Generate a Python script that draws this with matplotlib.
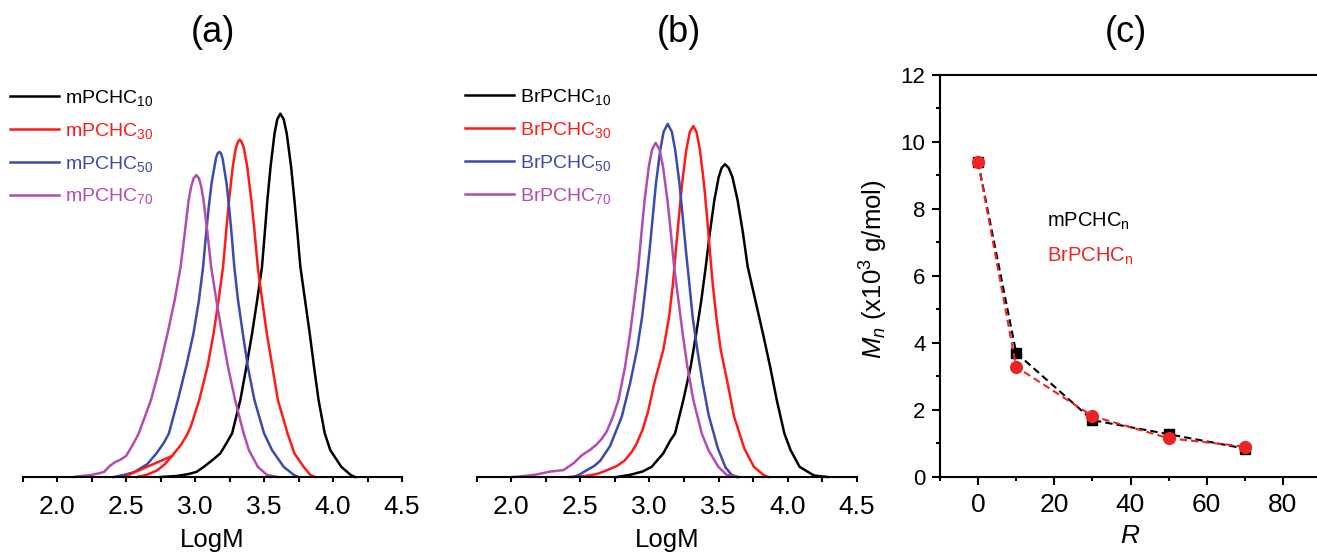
#!/usr/bin/env python3
# -*- coding: utf-8 -*-

import matplotlib
matplotlib.use("Agg")
import matplotlib.pyplot as plt
import matplotlib.ticker as mticker

# ====== DATA ======
# (a) GPC traces, mPCHC_n (LogM vs. normalised intensity)
a_m10_x = [2.75, 2.87, 2.95, 3.01, 3.063, 3.13, 3.183, 3.23, 3.268, 3.328, 3.372, 3.413, 3.450, 3.485, 3.505,
           3.524, 3.547, 3.576, 3.596, 3.618, 3.642, 3.664, 3.696, 3.720, 3.742, 3.763, 3.797, 3.831, 3.862,
           3.895, 3.94, 3.98, 4.06, 4.13, 4.16]
a_m10_y = [0.0, 0.003, 0.008, 0.014, 0.028, 0.048, 0.065, 0.095, 0.120, 0.212, 0.304, 0.395, 0.487, 0.579, 0.671,
           0.762, 0.854, 0.946, 0.985, 1.0, 0.985, 0.946, 0.854, 0.762, 0.671, 0.579, 0.487, 0.395, 0.304,
           0.212, 0.120, 0.074, 0.028, 0.005, 0.0]

a_m30_x = [2.579, 2.65, 2.724, 2.78, 2.833, 2.900, 2.94, 2.97, 3.030, 3.090, 3.134, 3.170, 3.203, 3.224, 3.246,
           3.273, 3.295, 3.310, 3.323, 3.338, 3.354, 3.378, 3.408, 3.432, 3.454, 3.486, 3.520, 3.560, 3.600,
           3.640, 3.670, 3.72, 3.787, 3.835, 3.87]
a_m30_y = [0.0, 0.006, 0.018, 0.035, 0.058, 0.090, 0.115, 0.140, 0.212, 0.304, 0.395, 0.487, 0.579, 0.671, 0.762,
           0.854, 0.905, 0.922, 0.929, 0.922, 0.905, 0.854, 0.762, 0.671, 0.579, 0.487, 0.395, 0.304, 0.212,
           0.160, 0.120, 0.065, 0.028, 0.006, 0.0]
a_m30_sh_x = [2.483, 2.833]   # rovná část na úpatí červené křivky
a_m30_sh_y = [0.0, 0.058]

a_m50_x = [2.41, 2.50, 2.56, 2.652, 2.72, 2.775, 2.81, 2.875, 2.935, 2.988, 3.028, 3.058, 3.080, 3.098, 3.119,
           3.150, 3.162, 3.176, 3.189, 3.200, 3.228, 3.247, 3.264, 3.284, 3.311, 3.346, 3.382, 3.43, 3.50,
           3.558, 3.642, 3.715, 3.75]
a_m50_y = [0.0, 0.007, 0.014, 0.035, 0.065, 0.095, 0.120, 0.212, 0.304, 0.395, 0.487, 0.579, 0.671, 0.740, 0.808,
           0.875, 0.890, 0.895, 0.890, 0.875, 0.808, 0.740, 0.671, 0.579, 0.487, 0.395, 0.304, 0.212, 0.120,
           0.074, 0.028, 0.006, 0.0]

a_m70_x = [2.12, 2.18, 2.24, 2.30, 2.34, 2.38, 2.42, 2.46, 2.50, 2.55, 2.59, 2.64, 2.68, 2.745, 2.80, 2.852,
           2.895, 2.925, 2.953, 2.972, 2.989, 3.009, 3.028, 3.044, 3.061, 3.090, 3.116, 3.154, 3.195, 3.238,
           3.29, 3.352, 3.39, 3.455, 3.52, 3.60]
a_m70_y = [0.0, 0.003, 0.005, 0.010, 0.014, 0.030, 0.041, 0.048, 0.058, 0.090, 0.119, 0.170, 0.212, 0.304, 0.395,
           0.487, 0.579, 0.671, 0.762, 0.800, 0.822, 0.831, 0.822, 0.800, 0.762, 0.671, 0.579, 0.487, 0.395,
           0.304, 0.212, 0.120, 0.074, 0.028, 0.006, 0.0]

# (b) GPC traces, BrPCHC_n
b_br10_x = [2.766, 2.86, 2.95, 3.016, 3.10, 3.15, 3.185, 3.245, 3.298, 3.338, 3.375, 3.407, 3.436, 3.469, 3.500,
            3.522, 3.546, 3.572, 3.600, 3.637, 3.676, 3.71, 3.765, 3.82, 3.872, 3.92, 3.975, 4.02, 4.085,
            4.19, 4.287]
b_br10_y = [0.0, 0.006, 0.015, 0.028, 0.065, 0.100, 0.120, 0.212, 0.304, 0.395, 0.487, 0.579, 0.671, 0.762, 0.825,
            0.851, 0.861, 0.851, 0.825, 0.762, 0.671, 0.579, 0.487, 0.395, 0.304, 0.212, 0.120, 0.074, 0.028,
            0.004, 0.0]

b_br30_x = [2.415, 2.524, 2.619, 2.669, 2.763, 2.82, 2.87, 2.905, 2.95, 2.99, 3.035, 3.10, 3.142, 3.170, 3.191,
            3.213, 3.236, 3.266, 3.292, 3.317, 3.340, 3.365, 3.394, 3.416, 3.436, 3.457, 3.483, 3.515, 3.565,
            3.612, 3.686, 3.755, 3.823, 3.86]
b_br30_y = [0.0, 0.002, 0.008, 0.015, 0.030, 0.045, 0.068, 0.090, 0.130, 0.180, 0.258, 0.350, 0.441, 0.533, 0.625,
            0.717, 0.808, 0.900, 0.950, 0.966, 0.950, 0.900, 0.808, 0.717, 0.625, 0.533, 0.441, 0.350, 0.258,
            0.166, 0.078, 0.028, 0.006, 0.0]

b_br50_x = [2.452, 2.50, 2.548, 2.60, 2.645, 2.715, 2.80, 2.86, 2.910, 2.947, 2.975, 3.001, 3.024, 3.047, 3.078,
            3.102, 3.132, 3.162, 3.186, 3.217, 3.240, 3.263, 3.288, 3.312, 3.346, 3.385, 3.428, 3.495, 3.55,
            3.594, 3.635]
b_br50_y = [0.0, 0.008, 0.019, 0.030, 0.045, 0.085, 0.166, 0.258, 0.350, 0.441, 0.533, 0.625, 0.717, 0.808, 0.900,
            0.950, 0.972, 0.950, 0.900, 0.808, 0.717, 0.625, 0.533, 0.441, 0.350, 0.258, 0.170, 0.078, 0.026,
            0.006, 0.0]

b_br70_x = [2.017, 2.10, 2.186, 2.283, 2.379, 2.452, 2.512, 2.572, 2.619, 2.655, 2.691, 2.735, 2.776, 2.824, 2.860,
            2.891, 2.920, 2.942, 2.965, 2.995, 3.018, 3.045, 3.074, 3.098, 3.130, 3.155, 3.178, 3.209, 3.240,
            3.274, 3.317, 3.378, 3.426, 3.498, 3.558, 3.64]
b_br70_y = [0.0, 0.003, 0.007, 0.015, 0.019, 0.038, 0.060, 0.075, 0.090, 0.105, 0.125, 0.165, 0.212, 0.304, 0.395,
            0.487, 0.579, 0.671, 0.762, 0.854, 0.900, 0.920, 0.900, 0.854, 0.762, 0.671, 0.579, 0.487, 0.395,
            0.304, 0.212, 0.120, 0.074, 0.028, 0.006, 0.0]

# (c) Mn vs. R
R = [0, 10, 30, 50, 70]
mn_mpchc = [9.4, 3.7, 1.69, 1.27, 0.84]
mn_brpchc = [9.4, 3.28, 1.81, 1.15, 0.90]

labels_a = ["mPCHC$_{10}$", "mPCHC$_{30}$", "mPCHC$_{50}$", "mPCHC$_{70}$"]
labels_b = ["BrPCHC$_{10}$", "BrPCHC$_{30}$", "BrPCHC$_{50}$", "BrPCHC$_{70}$"]

# ====== STYL ======
COLORS = ["#000000", "#ff1a1a", "#3b4aae", "#b24cae"]
RED_C = "#ee2424"

plt.rcParams["font.family"] = ["Liberation Sans", "DejaVu Sans"]
plt.rcParams["mathtext.fontset"] = "custom"
plt.rcParams["mathtext.rm"] = "Liberation Sans"
plt.rcParams["mathtext.it"] = "Liberation Sans:italic"
plt.rcParams["mathtext.bf"] = "Liberation Sans:bold"

W, H = 1317, 554
LW = 1.8


def px_axes(fig, left, right, bottom, top):
    """Osa zadaná v pixelech (y měřeno shora)."""
    return fig.add_axes([left / W, 1 - bottom / H, (right - left) / W, (bottom - top) / H])


def style_gpc(ax):
    ax.set_xlim(1.75, 4.5)
    ax.set_ylim(0, 1.15)
    for s in ("top", "right", "left"):
        ax.spines[s].set_visible(False)
    ax.spines["bottom"].set_linewidth(1.5)
    ax.set_yticks([])
    ax.xaxis.set_major_locator(mticker.MultipleLocator(0.5))
    ax.xaxis.set_minor_locator(mticker.MultipleLocator(0.25))
    ax.xaxis.set_major_formatter(mticker.FormatStrFormatter("%.1f"))
    ax.tick_params(axis="x", which="major", direction="out", length=3.8, width=1.5,
                   labelsize=19, pad=9)
    ax.tick_params(axis="x", which="minor", direction="out", length=3.8, width=1.5)
    ax.set_xlabel("LogM", fontsize=18.5, labelpad=7)


def gpc_legend(ax, handles, labels, x_px, y_px):
    leg = ax.legend(handles, labels, loc="upper left",
                    bbox_to_anchor=(x_px / W, 1 - y_px / H),
                    bbox_transform=ax.figure.transFigure,
                    frameon=False, fontsize=14, labelcolor="linecolor",
                    handlelength=2.5, handletextpad=0.35, labelspacing=0.66,
                    borderpad=0, borderaxespad=0)
    return leg


fig = plt.figure(figsize=(W / 100, H / 100), dpi=100)

# ====== (a) ======
ax_a = px_axes(fig, 22.7, 402, 477, 477 - 1.15 * 363.3)
style_gpc(ax_a)
ha = []
for xs, ys, c in zip([a_m10_x, a_m30_x, a_m50_x, a_m70_x],
                     [a_m10_y, a_m30_y, a_m50_y, a_m70_y], COLORS):
    ha.append(ax_a.plot(xs, ys, color=c, lw=LW, clip_on=False, solid_joinstyle="round")[0])
ax_a.plot(a_m30_sh_x, a_m30_sh_y, color=COLORS[1], lw=LW, clip_on=False)
gpc_legend(ax_a, ha, labels_a, 10, 88)

# ====== (b) ======
ax_b = px_axes(fig, 476.5, 857, 477, 477 - 1.15 * 363.3)
style_gpc(ax_b)
hb = []
for xs, ys, c in zip([b_br10_x, b_br30_x, b_br50_x, b_br70_x],
                     [b_br10_y, b_br30_y, b_br50_y, b_br70_y], COLORS):
    hb.append(ax_b.plot(xs, ys, color=c, lw=LW, clip_on=False, solid_joinstyle="round")[0])
gpc_legend(ax_b, hb, labels_b, 465, 87)

# ====== (c) ======
ax_c = px_axes(fig, 940, 1321, 476.7, 75)
ax_c.set_xlim(-10, 90)
ax_c.set_ylim(0, 12)
for s in ax_c.spines.values():
    s.set_linewidth(1.5)
ax_c.xaxis.set_major_locator(mticker.MultipleLocator(20))
ax_c.xaxis.set_minor_locator(mticker.MultipleLocator(10))
ax_c.yaxis.set_major_locator(mticker.MultipleLocator(2))
ax_c.yaxis.set_minor_locator(mticker.MultipleLocator(1))
ax_c.tick_params(which="major", direction="out", length=5.5, width=1.5)
ax_c.tick_params(which="minor", direction="out", length=3, width=1.5)
ax_c.tick_params(axis="x", which="major", labelsize=19, pad=6.2)
ax_c.tick_params(axis="y", which="major", labelsize=16, pad=5)

ax_c.plot(R, mn_mpchc, color="black", ls=(0, (3.5, 2)), lw=1.5,
          marker="s", ms=7.5, mec="black", mfc="black", clip_on=False)
ax_c.plot(R, mn_brpchc, color=RED_C, ls=(0, (3.5, 2)), lw=1.5,
          marker="o", ms=8.5, mec=RED_C, mfc=RED_C, clip_on=False)

ax_c.text(0.28, 0.635, "mPCHC$_{\\mathrm{n}}$", transform=ax_c.transAxes,
          fontsize=14.5, color="black", va="center", ha="left")
ax_c.text(0.28, 0.548, "BrPCHC$_{\\mathrm{n}}$", transform=ax_c.transAxes,
          fontsize=14.5, color=RED_C, va="center", ha="left")

ax_c.set_xlabel("$R$", fontsize=19, labelpad=5)
ax_c.set_ylabel("$M_n$ (x10$^{3}$ g/mol)", fontsize=18.5)
ax_c.yaxis.set_label_coords(-0.131, 0.517)

# ====== titulky ======
fig.text(213 / W, 1 - 32 / H, "(a)", fontsize=26, ha="center", va="center")
fig.text(679 / W, 1 - 32 / H, "(b)", fontsize=26, ha="center", va="center")
fig.text(1126 / W, 1 - 32 / H, "(c)", fontsize=26, ha="center", va="center")

fig.savefig("out.png", dpi=100)
